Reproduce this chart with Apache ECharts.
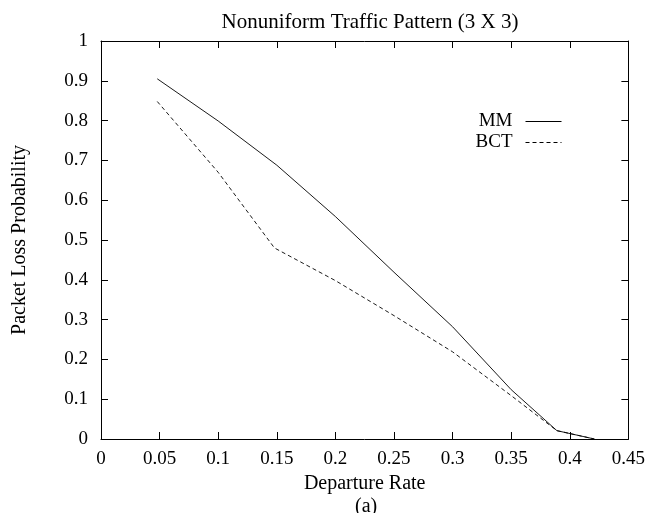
<!DOCTYPE html>
<html><head><meta charset="utf-8">
<script src="https://cdn.jsdelivr.net/npm/echarts@6/dist/echarts.min.js"></script>
<style>html,body{margin:0;padding:0;background:#fff}#c{width:648px;height:513px}</style>
</head><body><div id="c"></div>
<script>
const mmX = [0.048, 0.1, 0.15, 0.2, 0.25, 0.3, 0.35, 0.389, 0.421];
const mmY = [0.905, 0.799, 0.688, 0.559, 0.419, 0.282, 0.124, 0.021, 0.0];
const bctX = [0.048, 0.1, 0.148, 0.2, 0.25, 0.3, 0.35, 0.389, 0.421];
const bctY = [0.848, 0.67, 0.48, 0.398, 0.31, 0.219, 0.109, 0.021, 0.0];
const xTicks = ['0','0.05','0.1','0.15','0.2','0.25','0.3','0.35','0.4','0.45'];
const yTicks = ['0','0.1','0.2','0.3','0.4','0.5','0.6','0.7','0.8','0.9','1'];
const font = 'Liberation Serif';
const fs = 19;
const chart = echarts.init(document.getElementById('c'));
const zip = (xs, ys) => xs.map((x, i) => [x, ys[i]]);
const axisCommon = {
  axisLine: {show: true, onZero: false, lineStyle: {color: '#000', width: 1}},
  axisTick: {show: true, inside: true, length: 7, lineStyle: {color: '#000'}},
  splitLine: {show: false}
};
chart.setOption({
  backgroundColor: '#fff',
  animation: false,
  title: {text: 'Nonuniform Traffic Pattern (3 X 3)', left: 365, top: 7, textAlign: 'center',
    textStyle: {fontFamily: font, fontSize: 21, fontWeight: 'normal', color: '#000'}},
  grid: {left: 101, right: 18, top: 41, bottom: 74},
  legend: {
    right: 81, top: 107, orient: 'vertical', align: 'right', itemWidth: 36, itemHeight: 14, itemGap: 2,
    itemStyle: {opacity: 0},
    lineStyle: {width: 1},
    textStyle: {fontFamily: font, fontSize: fs, color: '#000', padding: [0, 8, 0, 0]},
    data: ['MM', 'BCT']
  },
  xAxis: [
    Object.assign({type: 'value', min: 0, max: 0.45, interval: 0.05, position: 'bottom',
      name: 'Departure Rate', nameLocation: 'middle', nameGap: 34,
      nameTextStyle: {fontFamily: font, fontSize: 20, color: '#000'},
      axisLabel: {fontFamily: font, fontSize: fs, color: '#000', margin: 11,
        formatter: v => xTicks[Math.round(v / 0.05)]}}, axisCommon),
    Object.assign({type: 'value', min: 0, max: 0.45, interval: 0.05, position: 'top',
      axisLabel: {show: false}}, axisCommon)
  ],
  yAxis: [
    Object.assign({type: 'value', min: 0, max: 1, interval: 0.1, position: 'left',
      name: 'Packet Loss Probability', nameLocation: 'middle', nameGap: 71,
      nameTextStyle: {fontFamily: font, fontSize: 20, color: '#000'},
      axisLabel: {fontFamily: font, fontSize: fs, color: '#000', margin: 13,
        formatter: v => yTicks[Math.round(v * 10)]}}, axisCommon),
    Object.assign({type: 'value', min: 0, max: 1, interval: 0.1, position: 'right',
      axisLabel: {show: false}}, axisCommon)
  ],
  graphic: [{type: 'text', left: 355, top: 497, style: {text: '(a)', fontFamily: font, fontSize: 20, fill: '#000'}}],
  series: [
    {name: 'MM', type: 'line', data: zip(mmX, mmY), symbol: 'none', color: '#000',
      lineStyle: {color: '#000', width: 0.9}},
    {name: 'BCT', type: 'line', data: zip(bctX, bctY), symbol: 'none', color: '#000',
      lineStyle: {color: '#000', width: 0.9, type: [4, 3]}}
  ]
});
</script></body></html>
